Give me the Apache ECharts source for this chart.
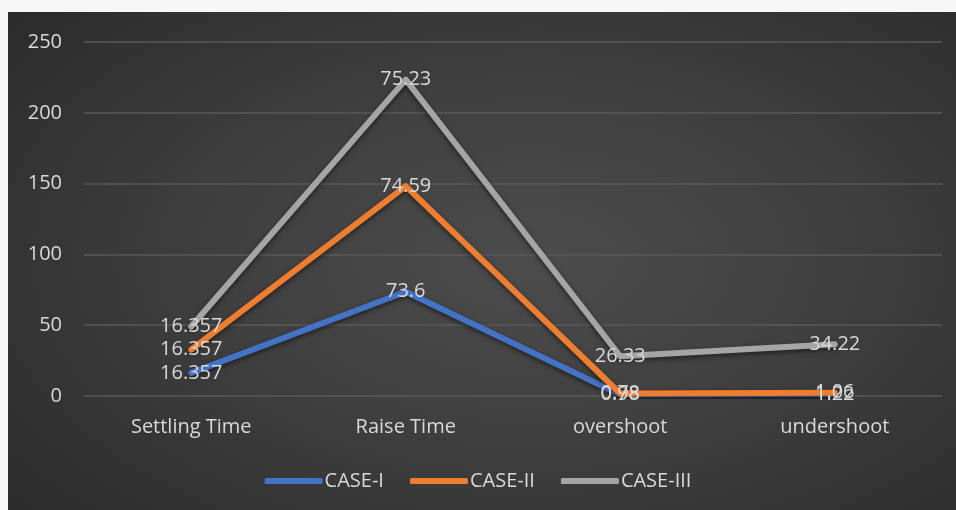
<!DOCTYPE html>
<html>
<head>
<meta charset="utf-8">
<script src="https://cdn.jsdelivr.net/npm/echarts@6/dist/echarts.min.js"></script>
<style>
  html, body { margin: 0; padding: 0; background: #f7f7f7; }
  #frame {
    position: absolute; left: 8px; top: 12px; width: 948px; height: 498px;
    background: radial-gradient(ellipse 70% 75% at 55% 50%, #4c4c4c 0%, #404040 45%, #2c2c2c 100%);
  }
  #chart { position: absolute; left: 0; top: 0; width: 956px; height: 510px; }
</style>
</head>
<body>
<div id="frame"></div>
<div id="chart"></div>
<script>
const categories = ['Settling Time', 'Raise Time', 'overshoot', 'undershoot'];
const seriesNames = ['CASE-I', 'CASE-II', 'CASE-III'];
const caseI   = [16.357, 73.6, 0.98, 1.22];
const caseII  = [16.357, 74.59, 0.78, 1.06];
const caseIII = [16.357, 75.23, 26.33, 34.22];
const yTicks = { min: 0, max: 250, step: 50 };

const colors = ['#4472c4', '#ed7d31', '#a5a5a5'];
const font = '"Open Sans", "Noto Sans", sans-serif';
const textColor = '#d9d9d9';

function lineSeries(name, data, color) {
  return {
    name: name,
    type: 'line',
    stack: 'total',
    data: data,
    symbol: 'circle',
    symbolSize: 1,
    showSymbol: true,
    lineStyle: {
      width: 6, color: color, cap: 'round', join: 'round',
      shadowColor: 'rgba(0,0,0,0.55)', shadowBlur: 5, shadowOffsetY: 2
    },
    itemStyle: { color: color, opacity: 0 },
    label: {
      show: true, position: 'inside', color: textColor,
      fontFamily: font, fontSize: 20, opacity: 1
    },
    z: 3
  };
}

const chart = echarts.init(document.getElementById('chart'), null, { renderer: 'canvas' });
chart.setOption({
  backgroundColor: 'transparent',
  animation: false,
  grid: { left: 84, right: 14, top: 42, bottom: 114 },
  xAxis: {
    type: 'category', data: categories, boundaryGap: true,
    axisLine: { show: false }, axisTick: { show: false },
    axisLabel: { color: textColor, fontFamily: font, fontSize: 20, margin: 21 }
  },
  yAxis: {
    type: 'value', min: yTicks.min, max: yTicks.max, interval: yTicks.step,
    axisLine: { show: false }, axisTick: { show: false },
    axisLabel: { color: textColor, fontFamily: font, fontSize: 20, margin: 22 },
    splitLine: { lineStyle: { color: '#585858', width: 1.5 } }
  },
  legend: {
    bottom: 14, left: 'center',
    itemWidth: 58, itemHeight: 6, itemGap: 26, icon: 'roundRect',
    textStyle: { color: textColor, fontFamily: font, fontSize: 20, padding: [0, 0, 0, -3] },
    data: seriesNames.map((n, i) => ({ name: n, itemStyle: { color: colors[i], opacity: 1 } }))
  },
  series: [
    lineSeries(seriesNames[0], caseI, colors[0]),
    lineSeries(seriesNames[1], caseII, colors[1]),
    lineSeries(seriesNames[2], caseIII, colors[2])
  ]
});
</script>
</body>
</html>
